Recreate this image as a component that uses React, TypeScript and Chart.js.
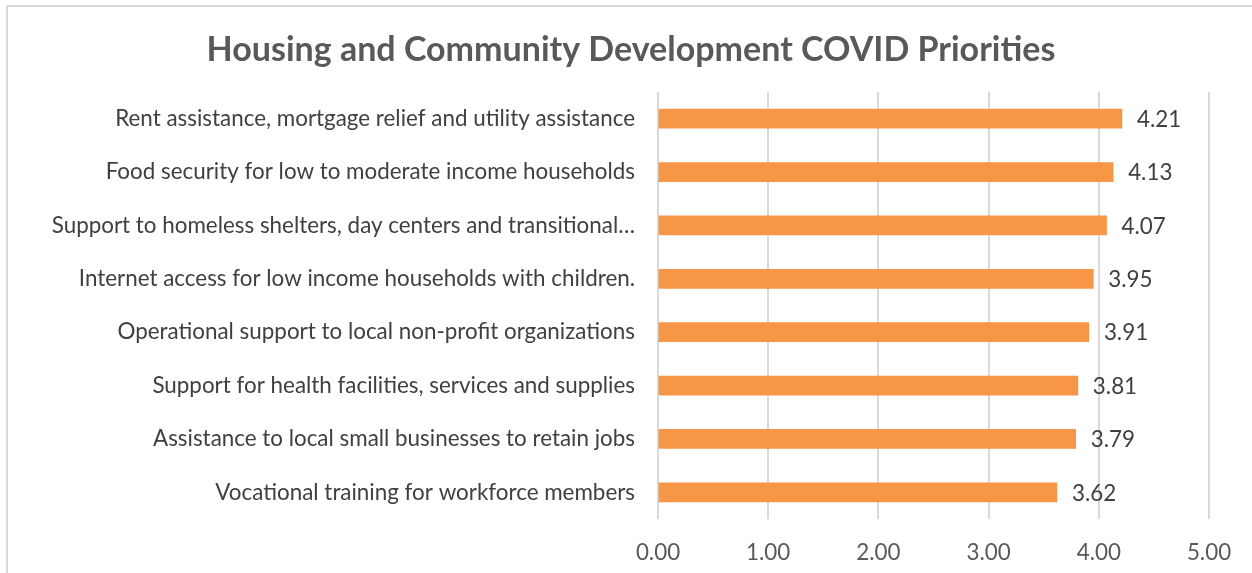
import React, { useEffect, useRef } from "react";
import { Chart, registerables } from "chart.js";

Chart.register(...registerables);

const categories = [
  "Rent assistance, mortgage relief and utility assistance",
  "Food security for low to moderate income households",
  "Support to homeless shelters, day centers and transitional…",
  "Internet access for low income households with children.",
  "Operational support to local non-profit organizations",
  "Support for health facilities, services and supplies",
  "Assistance to local small businesses to retain jobs",
  "Vocational training for workforce members",
];

const values = [4.21, 4.13, 4.07, 3.95, 3.91, 3.81, 3.79, 3.62];

const xTicks = [0, 1, 2, 3, 4, 5];

const TITLE = "Housing and Community Development COVID Priorities";
const FONT = "Lato, 'Open Sans', sans-serif";
const LABEL_SIZE = 22.4;

const valueLabels = {
  id: "valueLabels",
  afterDatasetsDraw(chart: any) {
    const ctx = chart.ctx;
    const meta = chart.getDatasetMeta(0);
    ctx.save();
    ctx.font = `${LABEL_SIZE}px ${FONT}`;
    ctx.fillStyle = "#404040";
    ctx.textAlign = "left";
    ctx.textBaseline = "middle";
    meta.data.forEach((bar: any, i: number) => {
      ctx.fillText(values[i].toFixed(2), bar.x + 15, bar.y + 1);
    });
    ctx.restore();
  },
};

const titlePlugin = {
  id: "customTitle",
  afterDraw(chart: any) {
    const ctx = chart.ctx;
    ctx.save();
    ctx.font = `bold 34px ${FONT}`;
    ctx.fillStyle = "#595959";
    ctx.textAlign = "center";
    ctx.textBaseline = "middle";
    ctx.fillText(TITLE, 631, 50);
    ctx.restore();
  },
};

export default function App() {
  const ref = useRef<HTMLCanvasElement | null>(null);

  useEffect(() => {
    if (!ref.current) return;
    const chart = new Chart(ref.current, {
      type: "bar",
      data: {
        labels: categories,
        datasets: [
          {
            data: values,
            backgroundColor: "#F79646",
            borderWidth: 0,
            barThickness: 19,
          },
        ],
      },
      plugins: [valueLabels, titlePlugin],
      options: {
        indexAxis: "y",
        animation: false,
        responsive: false,
        maintainAspectRatio: false,
        layout: { padding: { left: 0, right: 43, top: 92, bottom: 8 } },
        plugins: {
          legend: { display: false },
          tooltip: { enabled: false },
          title: { display: false },
        },
        scales: {
          x: {
            min: 0,
            max: 5,
            afterBuildTicks(scale: any) {
              scale.ticks = xTicks.map((v) => ({ value: v }));
            },
            afterFit(scale: any) {
              scale.height = 46;
            },
            ticks: {
              color: "#595959",
              font: { family: FONT, size: LABEL_SIZE },
              padding: 20,
              callback: (v: any) => Number(v).toFixed(2),
            },
            grid: { color: "#d9d9d9", lineWidth: 2, drawTicks: false },
            border: { display: false },
          },
          y: {
            afterFit(scale: any) {
              scale.width = 658;
            },
            ticks: {
              color: "#404040",
              font: { family: FONT, size: LABEL_SIZE },
              padding: 23,
              autoSkip: false,
            },
            grid: { display: false, drawTicks: false },
            border: { display: false },
          },
        },
      },
    });
    return () => chart.destroy();
  }, []);

  return (
    <div
      style={{
        position: "absolute",
        left: 0,
        top: 0,
        width: 1252,
        height: 573,
        overflow: "hidden",
        background: "#fff",
      }}
    >
      <div
        style={{
          position: "absolute",
          left: 6,
          top: 5,
          width: 1400,
          height: 800,
          border: "2px solid #d9d9d9",
          boxSizing: "border-box",
        }}
      />
      <canvas
        ref={ref}
        width={1252}
        height={573}
        style={{ position: "absolute", left: 0, top: 0, width: 1252, height: 573 }}
      />
    </div>
  );
}
